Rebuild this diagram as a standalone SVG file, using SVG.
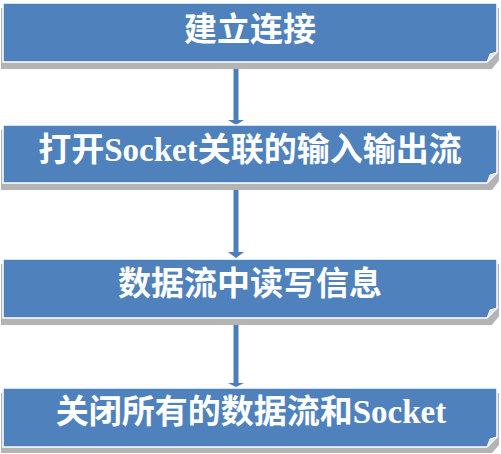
<svg xmlns="http://www.w3.org/2000/svg" width="501" height="454" viewBox="0 0 501 454">
<style>
.shadow{fill:#b4b4b4;}
.box{fill:#4f81bd;stroke:#ffffff;stroke-width:1.5;}
.fold{fill:#dfe6f0;stroke:#ffffff;stroke-width:1;}
.lbl{fill:#ffffff;font-family:"Liberation Serif","Noto Sans CJK SC",serif;font-weight:bold;font-size:33px;text-anchor:middle;dominant-baseline:central;}
.conn{stroke:#4a7ebb;stroke-width:5;fill:none;}
.head{fill:#4a7ebb;}
</style>
<rect width="501" height="454" fill="#ffffff"/>
<g id="connectors">
<line class="conn" x1="236" y1="66" x2="236" y2="121"/>
<path class="head" d="M228,120 L244,120 L236,125 Z"/>
<line class="conn" x1="236" y1="187" x2="236" y2="254"/>
<path class="head" d="M228,252 L244,252 L236,258 Z"/>
<line class="conn" x1="236" y1="322" x2="236" y2="384"/>
<path class="head" d="M228,383 L244,383 L236,387 Z"/>
</g>
<g id="n1">
<path class="shadow" d="M1,8 H499 V60 L492,69 H1 Z"/>
<path class="box" d="M3,3 H497 V52 L487,62 H3 Z"/>
<path class="fold" d="M487,62 L497,52 L490,54 Z"/>
<text class="lbl" x="250" y="30">建立连接</text>
</g>
<g id="n2">
<path class="shadow" d="M1,130 H499 V181 L492,190 H1 Z"/>
<path class="box" d="M3,125 H497 V173 L487,183 H3 Z"/>
<path class="fold" d="M487,183 L497,173 L490,175 Z"/>
<text class="lbl" x="250" y="150">打开Socket关联的输入输出流</text>
</g>
<g id="n3">
<path class="shadow" d="M1,264 H499 V316 L492,325 H1 Z"/>
<path class="box" d="M3,259 H497 V308 L487,318 H3 Z"/>
<path class="fold" d="M487,318 L497,308 L490,310 Z"/>
<text class="lbl" x="250" y="284">数据流中读写信息</text>
</g>
<g id="n4">
<path class="shadow" d="M1,393 H499 V445 L492,453 H1 Z"/>
<path class="box" d="M3,388 H497 V437 L487,447 H3 Z"/>
<path class="fold" d="M487,447 L497,437 L490,439 Z"/>
<text class="lbl" x="251" y="412">关闭所有的数据流和Socket</text>
</g>
</svg>
